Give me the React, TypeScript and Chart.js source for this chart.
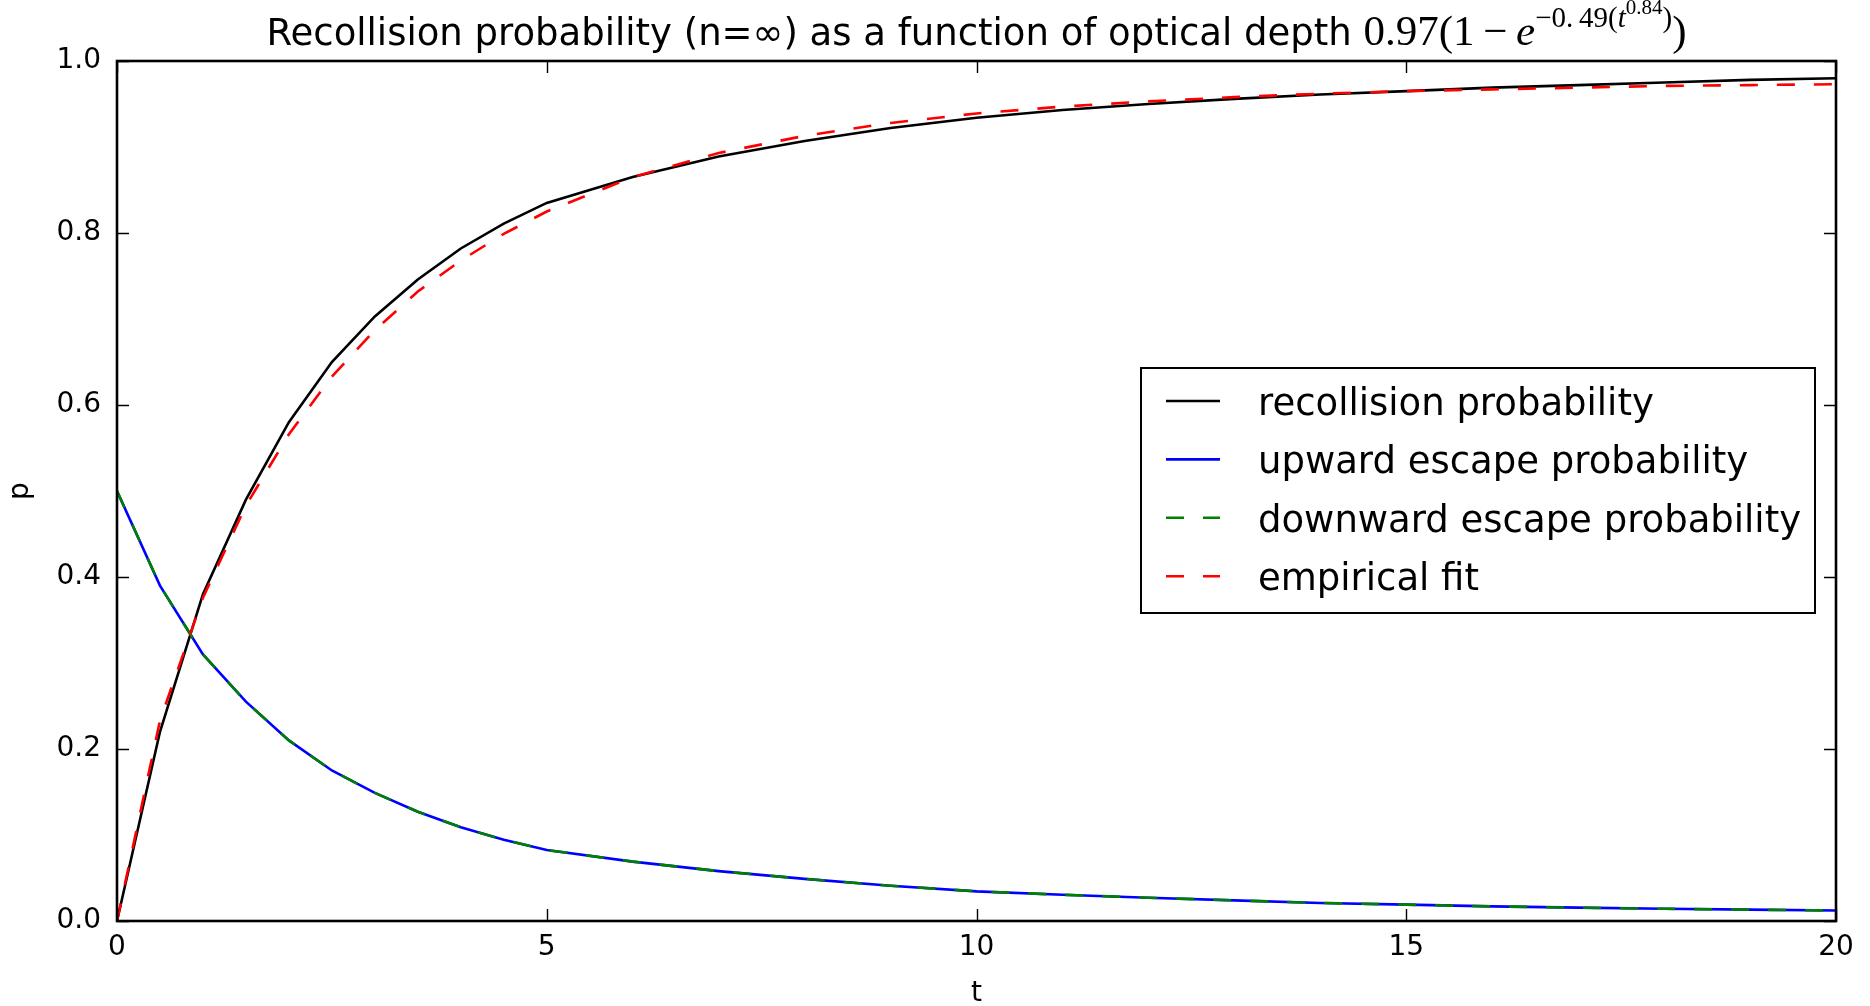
import React, { useEffect, useRef } from "react";
import { Chart, registerables } from "chart.js";

Chart.register(...registerables);

// ---- data ----
const tValues = [0, 0.5, 1, 1.5, 2, 2.5, 3, 3.5, 4, 4.5, 5, 6, 7, 8, 9, 10, 11, 12, 13, 14, 15, 16, 17, 18, 19, 20];
const recollision = [0.0, 0.22, 0.38, 0.49, 0.58, 0.65, 0.703, 0.746, 0.782, 0.811, 0.835, 0.865, 0.889, 0.907, 0.922, 0.934, 0.943, 0.95, 0.956, 0.961, 0.965, 0.969, 0.972, 0.975, 0.978, 0.98];
const upwardEscape = [0.5, 0.39, 0.31, 0.255, 0.21, 0.175, 0.149, 0.127, 0.109, 0.0945, 0.0825, 0.069, 0.058, 0.049, 0.041, 0.0345, 0.0305, 0.027, 0.024, 0.021, 0.019, 0.017, 0.0155, 0.0142, 0.0132, 0.0122];
const downwardEscape = [0.5, 0.39, 0.31, 0.255, 0.21, 0.175, 0.149, 0.127, 0.109, 0.0945, 0.0825, 0.069, 0.058, 0.049, 0.041, 0.0345, 0.0305, 0.027, 0.024, 0.021, 0.019, 0.017, 0.0155, 0.0142, 0.0132, 0.0122];
const empiricalFit = [0.0, 0.233, 0.376, 0.483, 0.566, 0.633, 0.687, 0.732, 0.768, 0.799, 0.825, 0.865, 0.893, 0.913, 0.928, 0.939, 0.947, 0.953, 0.958, 0.962, 0.965, 0.967, 0.969, 0.971, 0.972, 0.973];

const seriesLabels = ["recollision probability", "upward escape probability", "downward escape probability", "empirical fit"];
const seriesColors = ["#000000", "#0000ff", "#008000", "#ff0000"];
const seriesDashed = [false, false, true, true];

const xTickStep = 5;
const yTickStep = 0.2;

const SANS = '"DejaVu Sans", "Liberation Sans", sans-serif';
const SERIF = '"Liberation Serif", "DejaVu Serif", serif';

const LINE_W = 2.6;
const DASH = [18, 19];

function drawTitle(ctx: CanvasRenderingContext2D, cx: number, baseY: number) {
  const pieces = [
    { text: "Recollision probability (n=\u221e) as a function of optical depth ", font: `37px ${SANS}`, dy: 0 },
    { text: "0.97(1\u2009\u2212\u2009", font: `43px ${SERIF}`, dy: 0 },
    { text: "e", font: `italic 43px ${SERIF}`, dy: 0 },
    { text: "\u22120.\u200949(", font: `29px ${SERIF}`, dy: -18 },
    { text: "t", font: `italic 29px ${SERIF}`, dy: -18 },
    { text: "0.84", font: `21px ${SERIF}`, dy: -31 },
    { text: ")", font: `29px ${SERIF}`, dy: -18 },
    { text: ")", font: `43px ${SERIF}`, dy: 0 },
  ];
  let total = 0;
  const widths: number[] = [];
  for (const p of pieces) {
    ctx.font = p.font;
    const w = ctx.measureText(p.text).width;
    widths.push(w);
    total += w;
  }
  let x = cx - total / 2;
  ctx.textAlign = "left";
  ctx.textBaseline = "alphabetic";
  ctx.fillStyle = "#000";
  pieces.forEach((p, i) => {
    ctx.font = p.font;
    ctx.fillText(p.text, x, baseY + p.dy);
    x += widths[i];
  });
}

const overlayPlugin = {
  id: "mplOverlay",
  afterDraw(chart: any) {
    const { ctx, chartArea: a, scales } = chart;
    const xs = scales.x;
    const ys = scales.y;
    ctx.save();

    // frame
    ctx.strokeStyle = "#000";
    ctx.lineWidth = LINE_W;
    ctx.setLineDash([]);
    ctx.strokeRect(a.left, a.top, a.right - a.left, a.bottom - a.top);

    // inward ticks on all sides
    const TL = 12;
    ctx.lineWidth = 1.4;
    ctx.beginPath();
    for (const t of xs.ticks) {
      const px = Math.round(xs.getPixelForValue(t.value)) + 0.5;
      ctx.moveTo(px, a.bottom);
      ctx.lineTo(px, a.bottom - TL);
      ctx.moveTo(px, a.top);
      ctx.lineTo(px, a.top + TL);
    }
    for (const t of ys.ticks) {
      const py = Math.round(ys.getPixelForValue(t.value)) + 0.5;
      ctx.moveTo(a.left, py);
      ctx.lineTo(a.left + TL, py);
      ctx.moveTo(a.right, py);
      ctx.lineTo(a.right - TL, py);
    }
    ctx.stroke();

    // title
    drawTitle(ctx, (a.left + a.right) / 2, 45);

    // axis labels
    ctx.fillStyle = "#000";
    ctx.font = `28px ${SANS}`;
    ctx.textAlign = "center";
    ctx.textBaseline = "alphabetic";
    ctx.fillText("t", (a.left + a.right) / 2, 1001);
    ctx.save();
    ctx.translate(21, (a.top + a.bottom) / 2);
    ctx.rotate(-Math.PI / 2);
    ctx.textBaseline = "middle";
    ctx.fillText("p", 0, 0);
    ctx.restore();

    // legend
    const box = { l: 1141, t: 368, r: 1815, b: 613 };
    ctx.fillStyle = "#fff";
    ctx.fillRect(box.l, box.t, box.r - box.l, box.b - box.t);
    ctx.strokeStyle = "#000";
    ctx.lineWidth = 2;
    ctx.strokeRect(box.l, box.t, box.r - box.l, box.b - box.t);
    const rowY0 = 401;
    const rowGap = 58.4;
    chart.data.datasets.forEach((ds: any, i: number) => {
      const y = rowY0 + i * rowGap;
      ctx.strokeStyle = ds.borderColor;
      ctx.lineWidth = LINE_W;
      ctx.setLineDash(ds.borderDash || []);
      ctx.beginPath();
      ctx.moveTo(1166, y);
      ctx.lineTo(1220, y);
      ctx.stroke();
      ctx.setLineDash([]);
      ctx.fillStyle = "#000";
      ctx.font = `37px ${SANS}`;
      ctx.textAlign = "left";
      ctx.textBaseline = "alphabetic";
      ctx.fillText(ds.label, 1258, y + 14);
    });

    ctx.restore();
  },
};

export default function App() {
  const canvasRef = useRef<HTMLCanvasElement | null>(null);

  useEffect(() => {
    const canvas = canvasRef.current;
    if (!canvas) return;
    const seriesValues = [recollision, upwardEscape, downwardEscape, empiricalFit];
    const datasets = seriesValues.map((vals, i) => ({
      label: seriesLabels[i],
      data: tValues.map((t, k) => ({ x: t, y: vals[k] })),
      borderColor: seriesColors[i],
      backgroundColor: seriesColors[i],
      borderWidth: LINE_W,
      borderDash: seriesDashed[i] ? DASH : [],
      pointRadius: 0,
      fill: false,
      tension: 0,
      // later series are drawn on top (as in the reference)
      order: seriesValues.length - i,
    }));

    const tickFont = { family: SANS, size: 28 };

    const chart = new Chart(canvas, {
      type: "line",
      data: { datasets },
      options: {
        responsive: false,
        animation: false,
        events: [],
        layout: { padding: { top: 61, right: 34, left: 0, bottom: 0 } },
        plugins: {
          legend: { display: false },
          title: { display: false },
          tooltip: { enabled: false },
        },
        scales: {
          x: {
            type: "linear",
            min: 0,
            max: 20,
            ticks: {
              stepSize: xTickStep,
              font: tickFont,
              color: "#000",
              padding: 10,
              maxRotation: 0,
              callback: (v: any) => String(v),
            },
            grid: { display: false, drawTicks: false },
            border: { display: false },
            afterFit: (s: any) => {
              s.height = 85;
            },
          },
          y: {
            type: "linear",
            min: 0,
            max: 1,
            ticks: {
              stepSize: yTickStep,
              font: tickFont,
              color: "#000",
              padding: 16,
              callback: (v: any) => Number(v).toFixed(1),
            },
            grid: { display: false, drawTicks: false },
            border: { display: false },
            afterFit: (s: any) => {
              s.width = 117;
            },
          },
        },
      },
      plugins: [overlayPlugin],
    } as any);

    return () => chart.destroy();
  }, []);

  return (
    <div style={{ position: "fixed", left: 0, top: 0, width: 1870, height: 1006, background: "#fff" }}>
      <canvas ref={canvasRef} width={1870} height={1006} style={{ display: "block", width: 1870, height: 1006 }} />
    </div>
  );
}
